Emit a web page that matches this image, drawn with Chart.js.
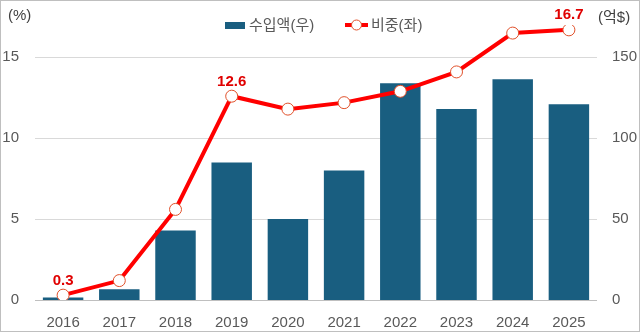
<!DOCTYPE html>
<html>
<head>
<meta charset="utf-8">
<script src="https://cdn.jsdelivr.net/npm/chart.js@4/dist/chart.umd.min.js"></script>
<style>
  html, body { margin: 0; padding: 0; background: #fff; }
  #wrap { width: 640px; height: 332px; position: relative; }
</style>
</head>
<body>
<div id="wrap"><canvas id="myChart"></canvas></div>
<script>
const years = ['2016', '2017', '2018', '2019', '2020', '2021', '2022', '2023', '2024', '2025'];
const importAmt = [1.5, 6.6, 43, 85, 50, 80, 134, 118, 136.5, 121];   // 수입액 (억$, 우축)
const shareVal = [0.3, 1.2, 5.6, 12.6, 11.8, 12.2, 12.9, 14.1, 16.5, 16.7]; // 비중 (%, 좌축)
const labelIdx = [0, 3, 9];
const leftTicks = [0, 5, 10, 15];
const rightTicks = [0, 50, 100, 150];

const FONT = "'Liberation Sans', 'Noto Sans CJK KR', sans-serif";
const BAR_COLOR = '#195e80';
const LINE_COLOR = '#ff0000';

// 범례, 단위, 데이터 레이블, 테두리
const extras = {
    id: 'extras',
    afterDatasetsDraw(chart) {
        const c = chart.ctx;
        c.save();
        // 데이터 레이블
        const meta = chart.getDatasetMeta(1);
        c.fillStyle = '#e00000';
        c.font = 'bold 15px ' + FONT;
        c.textAlign = 'center';
        c.textBaseline = 'bottom';
        labelIdx.forEach(i => {
            const p = meta.data[i];
            c.fillText(shareVal[i].toFixed(1), p.x, p.y - 7);
        });

        // 단위
        c.fillStyle = '#404040';
        c.font = '15px ' + FONT;
        c.textBaseline = 'middle';
        c.textAlign = 'left';
        c.fillText('(%)', 8, 16);
        c.fillText('(억$)', 598, 18);

        // 범례
        c.fillStyle = BAR_COLOR;
        c.fillRect(225, 22, 20, 7);
        c.fillStyle = '#595959';
        c.fillText('수입액(우)', 249, 26);
        c.strokeStyle = LINE_COLOR;
        c.lineWidth = 4;
        c.beginPath();
        c.moveTo(345, 25);
        c.lineTo(368, 25);
        c.stroke();
        c.beginPath();
        c.arc(356.5, 25, 5, 0, Math.PI * 2);
        c.fillStyle = '#fff';
        c.fill();
        c.lineWidth = 1;
        c.strokeStyle = '#e0502a';
        c.stroke();
        c.fillStyle = '#595959';
        c.fillText('비중(좌)', 371, 26);

        // 테두리
        c.strokeStyle = '#bfbfbf';
        c.lineWidth = 1;
        c.strokeRect(0.5, 0.5, chart.width - 1, chart.height - 1);
        c.restore();
    }
};

const ctx = document.getElementById('myChart');

new Chart(ctx, {
    data: {
        labels: years,
        datasets: [{
            type: 'bar',
            label: '수입액(우)',
            data: importAmt,
            yAxisID: 'yR',
            backgroundColor: BAR_COLOR,
            categoryPercentage: 1,
            barPercentage: 0.72,
            order: 2
        }, {
            type: 'line',
            label: '비중(좌)',
            data: shareVal,
            yAxisID: 'yL',
            borderColor: LINE_COLOR,
            borderWidth: 4,
            pointRadius: 6,
            pointBackgroundColor: '#fff',
            pointBorderColor: '#e0502a',
            pointBorderWidth: 1,
            tension: 0,
            order: 1
        }]
    },
    options: {
        responsive: true,
        maintainAspectRatio: false,
        animation: false,
        layout: { padding: { top: 8, left: 0, right: 0, bottom: 0 } },
        plugins: {
            legend: { display: false },
            tooltip: { enabled: false }
        },
        scales: {
            x: {
                grid: { display: false },
                border: { display: false },
                ticks: { color: '#595959', font: { family: FONT, size: 15 }, padding: 6 },
                afterFit: s => { s.height = 32; }
            },
            yL: {
                position: 'left',
                min: 0,
                max: 17,
                afterBuildTicks: s => { s.ticks = leftTicks.map(v => ({ value: v })); },
                grid: {
                    drawTicks: false,
                    color: c => c.tick && c.tick.value === 0 ? '#bfbfbf' : '#d9d9d9'
                },
                border: { display: false },
                ticks: { color: '#595959', font: { family: FONT, size: 15 }, padding: 16 },
                afterFit: s => { s.width = 35; }
            },
            yR: {
                position: 'right',
                min: 0,
                max: 170,
                afterBuildTicks: s => { s.ticks = rightTicks.map(v => ({ value: v })); },
                grid: { display: false, drawTicks: false },
                border: { display: false },
                ticks: { color: '#595959', font: { family: FONT, size: 15 }, padding: 15 },
                afterFit: s => { s.width = 43; }
            }
        }
    },
    plugins: [extras]
});
</script>
</body>
</html>
